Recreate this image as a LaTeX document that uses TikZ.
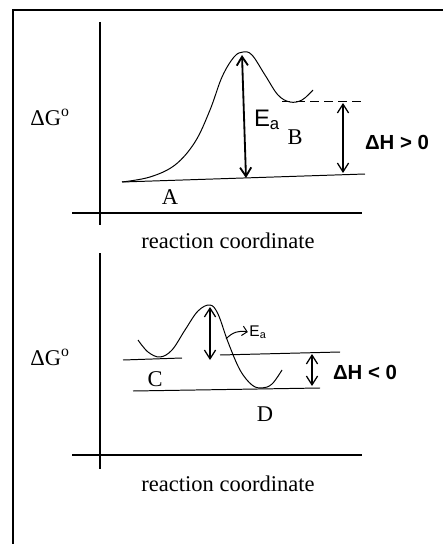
\documentclass[tikz,border=0pt]{standalone}
\usepackage{fontspec}
\setmainfont{Liberation Serif}
\newfontfamily\handfont{Liberation Sans}
\usetikzlibrary{arrows.meta,positioning}

\begin{document}
\begin{tikzpicture}[
  x=0.025cm, y=-0.025cm,
  font=\fontsize{16}{19}\selectfont,
  axis/.style={line width=0.8pt},
  curve/.style={line width=0.7pt, smooth, tension=0.6},
  level/.style={line width=0.7pt},
  gap/.style={{Straight Barb[length=2.2mm,width=2.8mm]}-{Straight Barb[length=2.2mm,width=2.8mm]}, line width=0.9pt},
  hand/.style={font=\handfont\bfseries\fontsize{14.5}{17}\selectfont, inner sep=1pt},
  lbl/.style={inner sep=1pt},
]
\useasboundingbox (0,0) rectangle (443,544);
% page frame
\draw[axis] (13,544) -- (13,10) -- (443,10);

% upper diagram: uphill reaction A -> B
\draw[axis] (100,22) -- (100,225);
\draw[axis] (72,213) -- (362,213);
\node[lbl] (dg1) at (50,117) {ΔG\textsuperscript{o}};
\node[lbl] (rc1) at (228,241) {reaction coordinate};
\draw[curve] plot coordinates {(122,182) (150,177) (175,165) (195,142) (210,110)
  (222,77) (234,57) (243,52) (252,55) (265,75) (278,95) (290,102) (302,100) (313,90)};
\draw[level] (122,182) -- (365,174);
\draw[level, dash pattern=on 6pt off 4pt] (282,101) -- (362,101);
\node[lbl] (A) at (170,197) {A};
\node[lbl] (B) at (295,137) {B};
\coordinate (ts1) at (242,55);
\coordinate (base1) at (246,178);
\draw[gap, line width=1.3pt] (ts1) -- (base1);
\node[hand, font=\handfont\fontsize{17}{19}\selectfont] (ea1) at (267,120) {E\textsubscript{a}};
\coordinate (lvB) at (343,103);
\coordinate (lvA) at (343,173);
\draw[gap] (lvB) -- (lvA);
\node[hand] (dh1) at (397,142) {ΔH > 0};

% lower diagram: downhill reaction C -> D
\draw[axis] (100,253) -- (100,469);
\draw[axis] (72,455) -- (362,455);
\node[lbl] (dg2) at (50,357) {ΔG\textsuperscript{o}};
\node[lbl] (rc2) at (228,484) {reaction coordinate};
\draw[curve] plot coordinates {(138,340) (148,352) (160,357) (172,350) (185,330)
  (198,311) (210,305) (218,314) (228,342) (240,370) (252,385) (262,388) (272,384) (282,370)};
\draw[level] (123,360) -- (182,358);
\draw[level] (220,355) -- (340,352);
\draw[level] (133,391) -- (320,388);
\node[lbl] (C) at (155,379) {C};
\node[lbl] (D) at (265,414) {D};
\coordinate (ts2) at (210,307);
\coordinate (base2) at (210,360);
\draw[gap] (ts2) -- (base2);
\node[hand, font=\handfont\fontsize{11}{13}\selectfont] (ea2) at (258,332) {E\textsubscript{a}};
\coordinate (ea2tail) at (226,339);
\draw[-{Straight Barb[length=1.2mm]}, line width=0.7pt] (ea2tail) to[bend left=30] (ea2.west);
\coordinate (lvC) at (312,354);
\coordinate (lvD) at (312,386);
\draw[gap] (lvC) -- (lvD);
\node[hand] (dh2) at (365,372) {ΔH < 0};
\end{tikzpicture}
\end{document}
